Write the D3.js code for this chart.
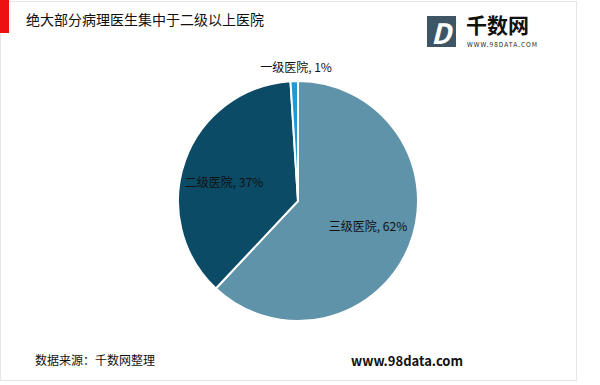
<!DOCTYPE html>
<html>
<head>
<meta charset="utf-8">
<script src="https://cdn.jsdelivr.net/npm/d3@7"></script>
<style>
body { margin: 0; background: #fff; }
text { font-family: "Noto Sans CJK SC", "Noto Sans", sans-serif; }
</style>
</head>
<body>
<script>
var categories = ["三级医院", "二级医院", "一级医院"];
var values = [62, 37, 1];
var colors = ["#5f93a9", "#0b4b66", "#1e9bd6"];

var w = 600, h = 385;
var cx = 298, cy = 201, r = 120;

var svg = d3.select("body")
    .append("svg")
    .attr("width", w)
    .attr("height", h);

// card frame
svg.append("rect")
    .attr("x", 0.5).attr("y", 1.5)
    .attr("width", 576).attr("height", 379)
    .attr("fill", "#fff")
    .attr("stroke", "#e6e6e6");

svg.append("rect")
    .attr("x", 0).attr("y", 0)
    .attr("width", 9).attr("height", 33)
    .attr("fill", "#ee1111");

svg.append("text")
    .text("绝大部分病理医生集中于二级以上医院")
    .attr("x", 26).attr("y", 25)
    .attr("font-size", "14px")
    .attr("fill", "#111");

// logo
var logo = svg.append("g");
logo.append("rect")
    .attr("x", 427).attr("y", 16)
    .attr("width", 29).attr("height", 31)
    .attr("fill", "#3e5566");
logo.append("text")
    .text("D")
    .attr("x", 441).attr("y", 44)
    .attr("text-anchor", "middle")
    .attr("font-size", "28px")
    .attr("font-style", "italic")
    .attr("font-weight", "bold")
    .attr("fill", "#fff");
logo.append("text")
    .text("3")
    .attr("x", 452).attr("y", 24)
    .attr("font-size", "8px")
    .attr("fill", "#3e5566");
logo.append("text")
    .text("千数网")
    .attr("x", 466).attr("y", 33)
    .attr("font-size", "21px")
    .attr("font-weight", "bold")
    .attr("fill", "#111");
logo.append("text")
    .text("WWW.98DATA.COM")
    .attr("x", 467).attr("y", 47)
    .attr("font-size", "6.5px")
    .attr("textLength", 70)
    .attr("font-family", "DejaVu Sans, sans-serif")
    .attr("fill", "#222");

// pie
var pie = d3.pie().sort(null).value(function(d) { return d; });
var arc = d3.arc().innerRadius(0).outerRadius(r);
var arcs = pie(values);

var g = svg.append("g").attr("transform", "translate(" + cx + "," + cy + ")");

g.selectAll("path")
    .data(arcs)
    .enter()
    .append("path")
    .attr("d", arc)
    .attr("fill", function(d, i) { return colors[i]; })
    .attr("stroke", "#fff")
    .attr("stroke-width", 2)
    .attr("stroke-linejoin", "miter");

// label positions in page pixels
var labelPos = [[368, 231], [224, 187], [296, 72]];
g.selectAll("text.lbl")
    .data(arcs)
    .enter()
    .append("text")
    .attr("class", "lbl")
    .text(function(d, i) { return categories[i] + ", " + values[i] + "%"; })
    .attr("x", function(d, i) { return labelPos[i][0] - cx; })
    .attr("y", function(d, i) { return labelPos[i][1] - cy; })
    .attr("text-anchor", "middle")
    .attr("font-size", "12px")
    .attr("fill", "#111");

// footer
svg.append("text")
    .text("数据来源：千数网整理")
    .attr("x", 35).attr("y", 365)
    .attr("font-size", "12px")
    .attr("fill", "#111");

svg.append("text")
    .text("www.98data.com")
    .attr("x", 351).attr("y", 366)
    .attr("font-size", "13px")
    .attr("font-weight", "bold")
    .attr("font-family", "Liberation Sans, Arial, sans-serif")
    .attr("fill", "#111");
</script>
</body>
</html>
